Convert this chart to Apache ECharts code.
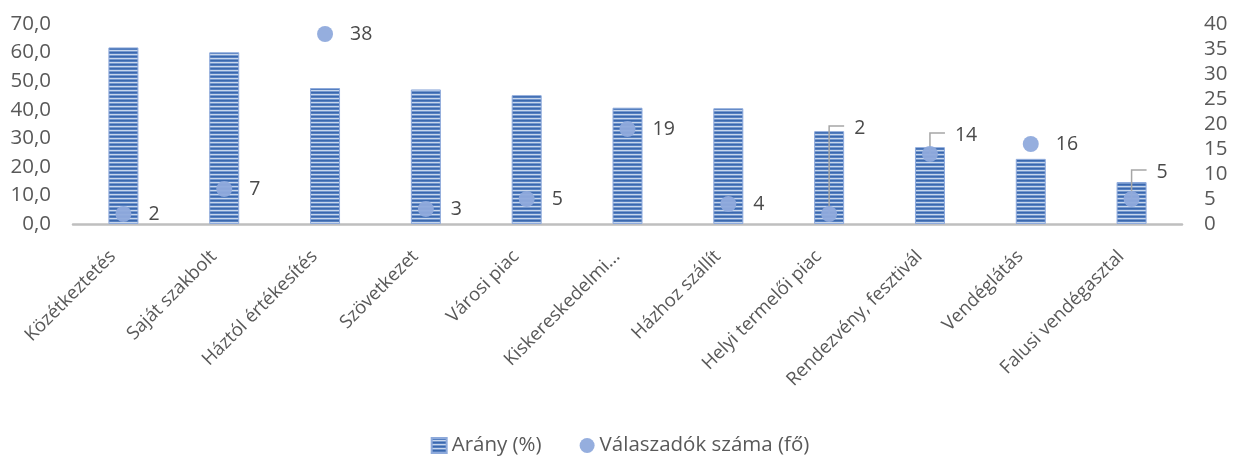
<!DOCTYPE html>
<html>
<head>
<meta charset="utf-8">
<script src="https://cdn.jsdelivr.net/npm/echarts@6/dist/echarts.min.js"></script>
<style>
  html, body { margin: 0; padding: 0; background: #fff; }
  #chart { width: 1240px; height: 459px; }
</style>
</head>
<body>
<div id="chart"></div>
<script>
const categories = ['Közétkeztetés', 'Saját szakbolt', 'Háztól értékesítés', 'Szövetkezet', 'Városi piac',
    'Kiskereskedelmi...', 'Házhoz szállít', 'Helyi termelői piac', 'Rendezvény, fesztivál', 'Vendéglátás', 'Falusi vendégasztal'];
const aranyPct = [61.8, 60.1, 47.6, 47.1, 45.1, 40.7, 40.5, 32.5, 26.9, 22.8, 14.7];
const valaszadok = [2, 7, 38, 3, 5, 19, 4, 2, 14, 16, 5];
const leftTicks = { min: 0, max: 70, interval: 10 };
const rightTicks = { min: 0, max: 40, interval: 5 };

// labels that Excel pulled up with a leader line (pixel shift of the label)
const labelShift = { 7: -86, 8: -19, 10: -27 };

const FONT = 'Open Sans';
const GREY = '#595959';

// striped fill for the bars
const makeStripes = () => {
    const c = document.createElement('canvas');
    c.width = 4; c.height = 4;
    const ctx = c.getContext('2d');
    const rows = ['#3a68ae', '#557fc0', '#c8d7ec', '#7497cd'];
    rows.forEach((col, i) => { ctx.fillStyle = col; ctx.fillRect(0, i, 4, 1); });
    return c;
};

const initChart = () => {
    const myChart = echarts.init(document.getElementById('chart'));
    const stripes = { image: makeStripes(), repeat: 'repeat' };

    const scatterData = valaszadok.map((v, i) => {
        const d = { value: v };
        if (labelShift[i] !== undefined) {
            d.label = { offset: [0, labelShift[i]] };
        }
        return d;
    });

    myChart.setOption({
        animation: false,
        textStyle: { fontFamily: FONT },
        grid: { left: 73, right: 58, top: 24, bottom: 235, containLabel: false },
        legend: {
            bottom: -2,
            left: 'center',
            itemGap: 38,
            itemWidth: 15,
            itemHeight: 15,
            textStyle: { color: GREY, fontSize: 20.5, fontFamily: FONT },
            data: [
                { name: 'Arány (%)', icon: 'rect' },
                { name: 'Válaszadók száma (fő)', icon: 'circle' }
            ]
        },
        xAxis: {
            type: 'category',
            data: categories,
            axisLine: { lineStyle: { color: '#bfbfbf', width: 2.5 } },
            axisTick: { show: false },
            axisLabel: { rotate: 45, color: GREY, fontSize: 18.5, margin: 19, padding: [0, 15, 0, 0],
                interval: 0, fontFamily: FONT }
        },
        yAxis: [
            {
                type: 'value', ...leftTicks,
                splitLine: { show: false },
                axisLine: { show: false },
                axisTick: { show: false },
                axisLabel: { color: GREY, fontSize: 20.5, margin: 22, fontFamily: FONT,
                    formatter: v => v.toFixed(1).replace('.', ',') }
            },
            {
                type: 'value', ...rightTicks,
                position: 'right',
                splitLine: { show: false },
                axisLine: { show: false },
                axisTick: { show: false },
                axisLabel: { color: GREY, fontSize: 20.5, margin: 22, fontFamily: FONT }
            }
        ],
        series: [
            {
                name: 'Arány (%)',
                type: 'bar',
                data: aranyPct,
                barWidth: 30,
                itemStyle: { color: stripes, borderColor: '#8eaadb', borderWidth: 1 }
            },
            {
                name: 'leader',
                type: 'custom',
                yAxisIndex: 1,
                silent: true,
                z: 3,
                data: valaszadok.map((v, i) => [i, v]),
                renderItem: (params, api) => {
                    const i = api.value(0);
                    const dy = labelShift[i];
                    if (dy === undefined) return null;
                    const p = api.coord([i, api.value(1)]);
                    const yTop = p[1] + dy - 2;
                    return {
                        type: 'polyline',
                        shape: { points: [[p[0], p[1]], [p[0], yTop], [p[0] + 15, yTop]] },
                        style: { stroke: '#a6a6a6', lineWidth: 1.5, fill: null }
                    };
                }
            },
            {
                name: 'Válaszadók száma (fő)',
                type: 'scatter',
                yAxisIndex: 1,
                z: 4,
                data: scatterData,
                symbolSize: 16,
                itemStyle: { color: '#8faadc', opacity: 0.95 },
                label: { show: true, position: 'right', distance: 17, color: '#404040', fontSize: 19.5, fontFamily: FONT }
            }
        ]
    });
};

window.addEventListener('load', initChart);
</script>
</body>
</html>
